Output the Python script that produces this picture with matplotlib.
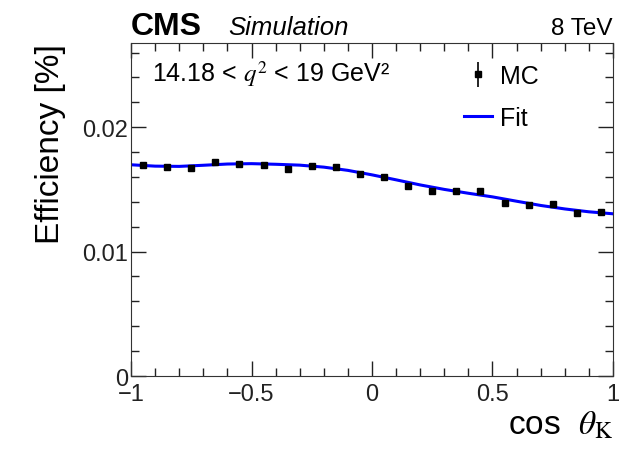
import matplotlib
matplotlib.use("Agg")
import matplotlib.pyplot as plt
import numpy as np
from matplotlib.ticker import MultipleLocator

plt.rcParams['font.family'] = ['Liberation Sans', 'DejaVu Sans']
plt.rcParams['mathtext.fontset'] = 'stix'

# MC efficiency per cos(theta_K) bin
bin_centers = [-0.95, -0.85, -0.75, -0.65, -0.55, -0.45, -0.35, -0.25, -0.15, -0.05,
               0.05, 0.15, 0.25, 0.35, 0.45, 0.55, 0.65, 0.75, 0.85, 0.95]
mc_eff = [0.01694, 0.01683, 0.01675, 0.01720, 0.01702, 0.01696, 0.01661, 0.01688, 0.01680, 0.01623,
          0.01602, 0.01527, 0.01489, 0.01484, 0.01484, 0.01387, 0.01377, 0.01382, 0.01312, 0.01317]
mc_err = [0.00022] * 20

# fit curve sampled every 0.1
fit_x = [-1.0, -0.9, -0.8, -0.7, -0.6, -0.5, -0.4, -0.3, -0.2, -0.1, 0.0,
         0.1, 0.2, 0.3, 0.4, 0.5, 0.6, 0.7, 0.8, 0.9, 1.0]
fit_y = [0.01698, 0.01687, 0.01685, 0.01694, 0.01704, 0.01707, 0.01702, 0.01695, 0.01679, 0.01653, 0.01617,
         0.01577, 0.01536, 0.01500, 0.01469, 0.01440, 0.01405, 0.01371, 0.01343, 0.01320, 0.01304]

fig = plt.figure(figsize=(6.2, 4.52), dpi=100)
ax = fig.add_axes([0.2113, 0.1659, 0.7774, 0.7368])

fit_line, = ax.plot(fit_x, fit_y, color='#0000ff', lw=2.2, label='Fit', zorder=2)
mc = ax.errorbar(bin_centers, mc_eff, yerr=mc_err, fmt='s', color='black', ms=4,
                 elinewidth=1.2, capsize=0, label='MC', zorder=3)

ax.set_xlim(-1, 1)
ax.set_ylim(0, 0.02677)
ax.xaxis.set_minor_locator(MultipleLocator(0.1))
ax.yaxis.set_minor_locator(MultipleLocator(0.002))
ax.set_xticks([-1, -0.5, 0, 0.5, 1])
ax.set_xticklabels(['\u22121', '\u22120.5', '0', '0.5', '1'])
ax.set_yticks([0, 0.01, 0.02])
ax.set_yticklabels(['0', '0.01', '0.02'])
ax.tick_params(which='both', direction='in', top=True, right=True, labelsize=17, colors='#222222')
ax.tick_params(which='major', length=11, width=1)
ax.tick_params(which='minor', length=6, width=1)
ax.tick_params(axis='x', pad=5)
ax.tick_params(axis='y', pad=2)
for s in ax.spines.values():
    s.set_color('#333333')

ax.set_xlabel(r'cos  $\theta_{\mathrm{K}}$', fontsize=24, loc='right', labelpad=3)
ax.set_ylabel('Efficiency [%]', fontsize=24, loc='top', labelpad=12)

fig.text(0.2113, 0.9226, 'CMS', fontsize=23, fontweight='bold', ha='left', va='baseline')
fig.text(0.368, 0.9226, 'Simulation', fontsize=18.5, style='italic', ha='left', va='baseline')
fig.text(0.9887, 0.9226, '8 TeV', fontsize=17.5, ha='right', va='baseline')

ax.text(0.044, 0.91, r'14.18 < $q^{2}$ < 19 GeV²', transform=ax.transAxes,
        fontsize=18, ha='left', va='center')

ax.legend(handles=[mc, fit_line], labels=['MC', 'Fit'], loc='upper left',
          bbox_to_anchor=(0.664, 0.975), frameon=False, fontsize=18, borderpad=0,
          handlelength=1.15, handletextpad=0.3, labelspacing=0.72)

fig.savefig('out.png', dpi=100)
